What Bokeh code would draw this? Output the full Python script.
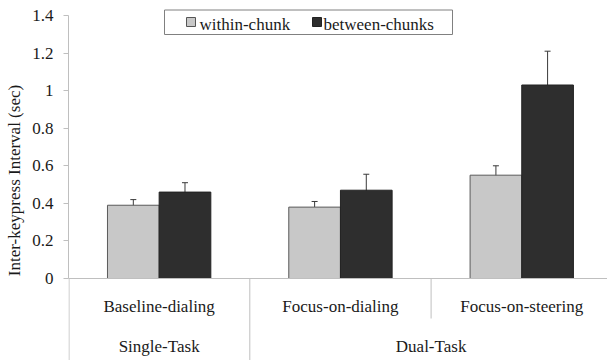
import numpy as np
from bokeh.plotting import figure
from bokeh.models import ColumnDataSource, Range1d, FixedTicker, Whisker, TeeHead, Span
from bokeh.embed import file_html
from bokeh.resources import INLINE
from bokeh.core.properties import value

# --- data -------------------------------------------------------------
conditions = ["Baseline-dialing", "Focus-on-dialing", "Focus-on-steering"]
task_groups = ["Single-Task", "Dual-Task"]
group_members = [[0], [1, 2]]          # condition indices in each task group
series_names = ["within-chunk", "between-chunks"]
within_chunk = [0.39, 0.38, 0.55]
within_err = [0.03, 0.03, 0.05]
between_chunks = [0.46, 0.47, 1.03]
between_err = [0.05, 0.085, 0.18]
y_ticks = [0, 0.2, 0.4, 0.6, 0.8, 1.0, 1.2, 1.4]
y_tick_labels = ["0", "0.2", "0.4", "0.6", "0.8", "1", "1.2", "1.4"]
y_title = "Inter-keypress Interval (sec)"

# --- layout -----------------------------------------------------------
W, H = 607, 360
LEFT = 68            # left edge of the plotting area
Y0_PX = 278          # canvas row of value 0
YTOP_PX = 15         # canvas row of the top tick
Y_MAX = y_ticks[-1]
PX_PER_Y = (Y0_PX - YTOP_PX) / Y_MAX
PX_PER_X = 181.3     # width of one condition slot
TEXT_SHIFT = 6       # baseline correction for text glyphs

def dx(px):
    return (px - LEFT) / PX_PER_X

def dy(py):
    return (Y0_PX - py) / PX_PER_Y

def dy_text(py):
    return dy(py - TEXT_SHIFT)

x_end = dx(W)
y_start = dy(H)
y_end = dy(0)

FONT_NAME = "Liberation Serif"
FONT = value(FONT_NAME)
FS = "17px"
TXT = "#1a1a1a"
AXIS = "#bfbfbf"
LIGHT, DARK = "#c8c8c8", "#2e2e2e"

p = figure(width=W, height=H, x_range=Range1d(0, x_end), y_range=Range1d(y_start, y_end),
           output_backend="svg", toolbar_location=None, x_axis_location=None,
           min_border_left=LEFT, min_border_right=0, min_border_top=0, min_border_bottom=0)
p.grid.visible = False
p.outline_line_color = None
p.background_fill_color = "white"

yax = p.yaxis[0]
yax.ticker = FixedTicker(ticks=y_ticks)
yax.major_label_overrides = {t: s for t, s in zip(y_ticks, y_tick_labels)}
yax.bounds = (0, Y_MAX)
yax.axis_line_color = AXIS
yax.major_tick_line_color = AXIS
yax.major_tick_in = 0
yax.major_tick_out = 5
yax.minor_tick_line_color = None
yax.major_label_standoff = 10
yax.major_label_text_font = FONT_NAME
yax.major_label_text_font_size = FS
yax.major_label_text_color = TXT
yax.axis_label = y_title
yax.axis_label_text_font = FONT_NAME
yax.axis_label_text_font_size = FS
yax.axis_label_text_font_style = "normal"
yax.axis_label_text_color = TXT
yax.axis_label_standoff = 5

# axis line continued through the category label rows
p.segment(x0=[dx(LEFT + 0.5)], y0=[0], x1=[dx(LEFT + 0.5)], y1=[y_start], line_color=AXIS, line_width=1)

# baseline at zero
p.add_layout(Span(location=0, dimension="width", line_color=AXIS, line_width=1))

# bars
n = len(conditions)
centers = np.arange(n) + 0.5
bar_w = 0.285
src_w = ColumnDataSource(dict(x=centers - bar_w / 2, top=within_chunk,
                              upper=np.array(within_chunk) + np.array(within_err),
                              lower=np.array(within_chunk) - np.array(within_err)))
src_b = ColumnDataSource(dict(x=centers + bar_w / 2, top=between_chunks,
                              upper=np.array(between_chunks) + np.array(between_err),
                              lower=np.array(between_chunks) - np.array(between_err)))
p.vbar(x="x", top="top", width=bar_w, source=src_w, fill_color=LIGHT, line_color="#5a5a5a", line_width=1)
p.vbar(x="x", top="top", width=bar_w, source=src_b, fill_color=DARK, line_color="#222222", line_width=1)

ERR = "#3a3a3a"
for src in (src_w, src_b):
    p.add_layout(Whisker(source=src, base="x", upper="upper", lower="lower", dimension="height",
                         line_color=ERR, line_width=1,
                         upper_head=TeeHead(size=6, line_color=ERR, line_width=1),
                         lower_head=TeeHead(size=6, line_color=ERR, line_width=1)))

# category labels: conditions, then task groups
p.text(x=centers, y=[dy_text(312)] * n, text=conditions, text_font=FONT, text_font_size=value(FS),
       text_color=TXT, text_align="center", text_baseline="alphabetic")
group_x = [(min(m) + max(m) + 1) / 2 for m in group_members]
p.text(x=group_x, y=[dy_text(352)] * len(task_groups), text=task_groups, text_font=FONT,
       text_font_size=value(FS), text_color=TXT, text_align="center", text_baseline="alphabetic")

# dividers between categories: full height at group boundaries, short inside a group
group_edges = {max(m) + 1 for m in group_members[:-1]}
div_x = list(range(1, n))
div_bottom = [y_start if x in group_edges else dy(318) for x in div_x]
p.segment(x0=div_x, y0=[0] * len(div_x), x1=div_x, y1=div_bottom, line_color=AXIS, line_width=1)

# legend
p.quad(left=[dx(164)], right=[dx(452)], top=[dy(9.5)], bottom=[dy(34)],
       fill_color="white", line_color="#808080", line_width=1)
p.scatter(x=[dx(190.5), dx(316.5)], y=[dy(21.5)] * 2, marker="square", size=9,
          fill_color=[LIGHT, DARK], line_color=["#555555", "#222222"], line_width=1)
p.text(x=[dx(199), dx(323)], y=[dy_text(30)] * 2, text=series_names, text_font=FONT,
       text_font_size=value(FS), text_color=TXT, text_align="left", text_baseline="alphabetic")

open("out.html", "w").write(file_html(p, INLINE))
